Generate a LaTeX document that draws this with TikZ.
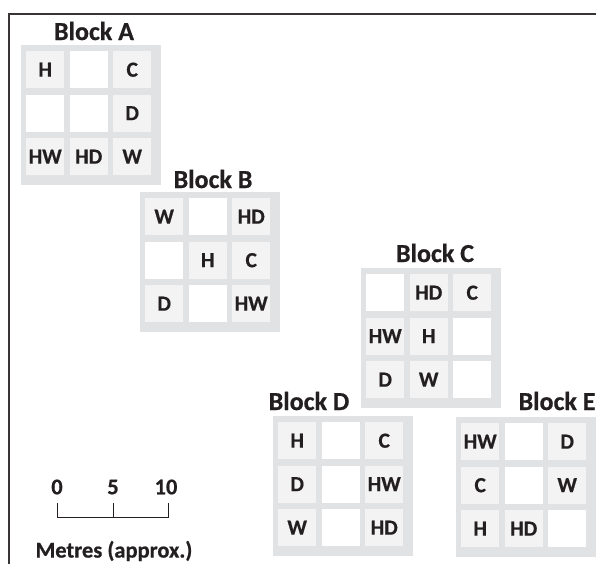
\documentclass[tikz,border=0pt]{standalone}
\usepackage{fontspec}
\setmainfont{Carlito}[BoldFeatures={FakeBold=0.6}]
\usetikzlibrary{positioning}
\definecolor{blockgray}{HTML}{E1E2E4}
\definecolor{cellgray}{HTML}{F3F3F3}
\definecolor{ink}{HTML}{231F20}
\tikzset{
    cell/.style={minimum width=38pt, minimum height=37pt, inner sep=0pt, anchor=north west,
        text=ink, font=\fontsize{21.5}{24}\selectfont\bfseries},
    fullcell/.style={cell, fill=cellgray},
    emptycell/.style={cell, fill=white},
    blocktitle/.style={text=ink, inner sep=0pt, font=\fontsize{26}{30}\selectfont\bfseries},
    scaletext/.style={text=ink, inner sep=0pt, font=\fontsize{22.5}{26}\selectfont\bfseries}
}
\begin{document}
\begin{tikzpicture}[x=1pt, y=-1pt]
    \useasboundingbox (0,0) rectangle (596,564);
    % Frame
    \coordinate (frtl) at (9,14);
    \coordinate (frtr) at (596,14);
    \coordinate (frbl) at (9,564);
    \draw [line width=2pt, ink!90] (frtr) -- (frtl) -- (frbl);

    % Blocks: shift / name / title position / empty cells / labelled cells
    \foreach \bx/\by/\bn/\tx/\ty/\empties/\fulls in {
        21/45/A/73/-14/{1/0, 0/1, 1/1}/{0/0/H, 2/0/C, 2/1/D, 0/2/HW, 1/2/HD, 2/2/W},
        140/192/B/73/-13/{1/0, 0/1, 1/2}/{0/0/W, 2/0/HD, 1/1/H, 2/1/C, 0/2/D, 2/2/HW},
        361/268/C/74/-15/{0/0, 2/1, 2/2}/{1/0/HD, 2/0/C, 0/1/HW, 1/1/H, 0/2/D, 1/2/W},
        273/416/D/36/-15/{1/0, 1/1, 1/2}/{0/0/H, 2/0/C, 0/1/D, 2/1/HW, 0/2/W, 2/2/HD},
        456/417/E/101/-16/{1/0, 1/1, 2/2}/{0/0/HW, 2/0/D, 0/1/C, 2/1/W, 0/2/H, 1/2/HD}}
    {
        \begin{scope}[shift={(\bx,\by)}]
            \fill [blockgray] (0,0) rectangle (140,140);
            \node [blocktitle] (title\bn) at (\tx,\ty) {Block \bn};
            \foreach \c/\r in \empties
                \node [emptycell] (\bn\c\r) at ({5+43.5*\c},{6+43.5*\r}) {};
            \foreach \c/\r/\txt in \fulls
                \node [fullcell] (\bn\c\r) at ({5+43.5*\c},{6+43.5*\r}) {\txt};
        \end{scope}
    }

    % Scale bar
    \node [scaletext] (n0) at (57,487) {0};
    \node [scaletext] (n5) at (113,487) {5};
    \node [scaletext] (n10) at (166,487) {10};
    \coordinate (s0) at (57,517);
    \coordinate (s5) at (113,517);
    \coordinate (s10) at (168,517);
    \coordinate (t0) at (57,503);
    \coordinate (t5) at (113,503);
    \coordinate (t10) at (168,503);
    \draw [ink, line width=1pt] (t0) -- (s0) -- (s10) -- (t10);
    \draw [ink, line width=1pt] (s5) -- (t5);
    \node [scaletext] (metres) at (114,551) {Metres (approx.)};
\end{tikzpicture}
\end{document}
